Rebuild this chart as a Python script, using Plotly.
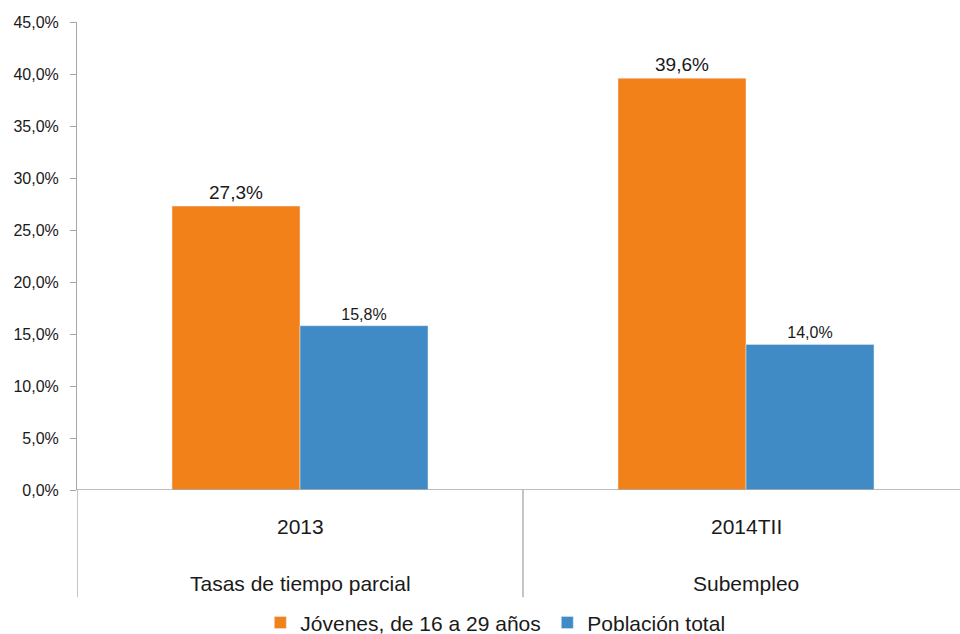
import plotly.graph_objects as go

categories = ["2013", "2014TII"]
groups = ["Tasas de tiempo parcial", "Subempleo"]
series_names = ["Jóvenes, de 16 a 29 años", "Población total"]
jovenes = [27.3, 39.6]
poblacion = [15.8, 14.0]
y_ticks = [0, 5, 10, 15, 20, 25, 30, 35, 40, 45]
y_tick_text = [f"{v:.1f}%".replace(".", ",") for v in y_ticks]

FONT = "Liberation Sans Narrow, Arial Narrow, Liberation Sans, Arial, sans-serif"
ORANGE = "#F2811A"
BLUE = "#408BC6"
AXIS = "#A6A6A6"
TXT = "#1a1a1a"

xpos = list(range(len(categories)))

fig = go.Figure()
fig.add_trace(go.Bar(
    x=xpos, y=jovenes, name=series_names[0], marker_color=ORANGE,
    texttemplate="%{y:.1f}%", textposition="outside",
    textfont=dict(size=19, color=TXT, family=FONT), cliponaxis=False,
))
fig.add_trace(go.Bar(
    x=xpos, y=poblacion, name=series_names[1], marker_color=BLUE,
    texttemplate="%{y:.1f}%", textposition="outside",
    textfont=dict(size=16, color=TXT, family=FONT), cliponaxis=False,
))

# right edge of the plot ends a little before the end of the second category
x_right = -0.5 + 883 / 446

fig.update_layout(
    width=960, height=634,
    margin=dict(l=77, r=0, t=22, b=144, autoexpand=False),
    paper_bgcolor="white", plot_bgcolor="white",
    separators=",.",
    barmode="group", bargap=0.426, bargroupgap=0,
    font=dict(family=FONT, color=TXT),
    showlegend=True,
    legend=dict(orientation="h", x=0.5326, xanchor="center", y=-0.284, yanchor="middle",
                font=dict(size=21, family=FONT, color=TXT),
                traceorder="normal", entrywidth=242, entrywidthmode="pixels"),
    xaxis=dict(range=[-0.5, x_right], showticklabels=False, showgrid=False, zeroline=False,
               showline=False, ticks="", automargin=False),
    yaxis=dict(range=[0, 45], tickvals=y_ticks, ticktext=y_tick_text,
               showgrid=False, zeroline=False, showline=True, linecolor=AXIS, linewidth=1,
               ticks="outside", ticklen=6, tickcolor=AXIS, automargin=False,
               ticklabelstandoff=8,
               tickfont=dict(size=16, family=FONT, color=TXT)),
)

# x axis baseline
fig.add_shape(type="line", xref="paper", yref="y", x0=0, x1=1, y0=0, y1=0,
              line=dict(color=AXIS, width=1.3))
# separators of the category axis
for xs in [-0.5, 0.5]:
    fig.add_shape(type="line", xref="x", yref="paper", x0=xs, x1=xs, y0=0, y1=-0.229,
                  line=dict(color=AXIS, width=1.3))

for i, (c, g) in enumerate(zip(categories, groups)):
    fig.add_annotation(x=i, y=-0.079, xref="x", yref="paper", text=c, showarrow=False,
                       yanchor="middle", font=dict(size=21, family=FONT, color=TXT))
    fig.add_annotation(x=i, y=-0.199, xref="x", yref="paper", text=g, showarrow=False,
                       yanchor="middle", font=dict(size=21, family=FONT, color=TXT))

fig.write_html("out.html", config={"displayModeBar": False},
               post_script="document.body.style.margin='0';")
